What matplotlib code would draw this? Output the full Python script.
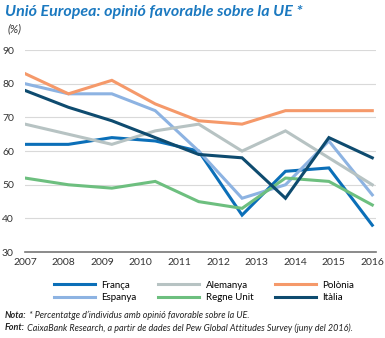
import matplotlib.pyplot as plt
import numpy as np

plt.rcParams['font.family'] = ['Lato', 'DejaVu Sans']

years = [2007, 2008, 2009, 2010, 2011, 2012, 2013, 2014, 2015, 2016]
n_points = 9

franca = [62, 62, 64, 63, 60, 41, 54, 55, 38]
espanya = [80, 77, 77, 72, 60, 46, 50, 63, 47]
alemanya = [68, 65, 62, 66, 68, 60, 66, 58, 50]
regne_unit = [52, 50, 49, 51, 45, 43, 52, 51, 44]
polonia = [83, 77, 81, 74, 69, 68, 72, 72, 72]
italia = [78, 73, 69, 64, 59, 58, 46, 64, 58]

series = [
    ('França', franca, '#0b6fb8'),
    ('Espanya', espanya, '#8db3e2'),
    ('Alemanya', alemanya, '#b7c3c3'),
    ('Regne Unit', regne_unit, '#6dbf7f'),
    ('Polònia', polonia, '#f5996a'),
    ('Itàlia', italia, '#0e4b6f'),
]

fig = plt.figure(figsize=(3.85, 3.38), dpi=100)
ax = fig.add_axes([0.065, 0.254, 0.912, 0.598])

x = np.linspace(years[0], years[-1], n_points)
for name, vals, col in series:
    ax.plot(x, vals, color=col, lw=2.2, label=name, solid_joinstyle='miter')

ax.set_ylim(30, 90)
ax.set_xlim(2007, 2016.1)
ax.set_yticks(range(30, 91, 10))
ax.set_xticks(years)
ax.tick_params(length=0, labelsize=7.5, colors='#333333', pad=4)
ax.tick_params(axis='y', pad=8)
ax.grid(axis='y', color='#d9d9d9', lw=0.8)
ax.set_axisbelow(True)
for s in ['top', 'right', 'left']:
    ax.spines[s].set_visible(False)
ax.spines['bottom'].set_color('#777777')
ax.spines['bottom'].set_linewidth(1.2)

fig.text(0.013, 0.965, 'Unió Europea: opinió favorable sobre la UE *', color='#1b79c0',
         fontsize=11.5, fontweight='bold', fontstyle='italic', va='center')
fig.text(0.02, 0.915, '(%)', color='#333333', fontsize=8, fontstyle='italic', va='center')

fig.legend(loc='center', bbox_to_anchor=(0.53, 0.138), ncol=3, frameon=False,
           fontsize=7, handlelength=4.2, handletextpad=0.7, columnspacing=2.2,
           labelspacing=0.35)

t1 = fig.text(0.013, 0.068, 'Nota:', fontsize=6.5, fontweight='bold', fontstyle='italic',
              color='#222222', va='center')
ax.annotate(' * Percentatge d\u2019individus amb opinió favorable sobre la UE.', xy=(1, 0.5),
            xycoords=t1, va='center', fontsize=6.5, fontstyle='italic', color='#222222',
            annotation_clip=False)
t2 = fig.text(0.013, 0.03, 'Font:', fontsize=6.5, fontweight='bold', fontstyle='italic',
              color='#222222', va='center')
ax.annotate(' CaixaBank Research, a partir de dades del Pew Global Attitudes Survey (juny del 2016).',
            xy=(1, 0.5), xycoords=t2, va='center', fontsize=6.5, fontstyle='italic',
            color='#222222', annotation_clip=False)

fig.savefig('out.png', dpi=100)
